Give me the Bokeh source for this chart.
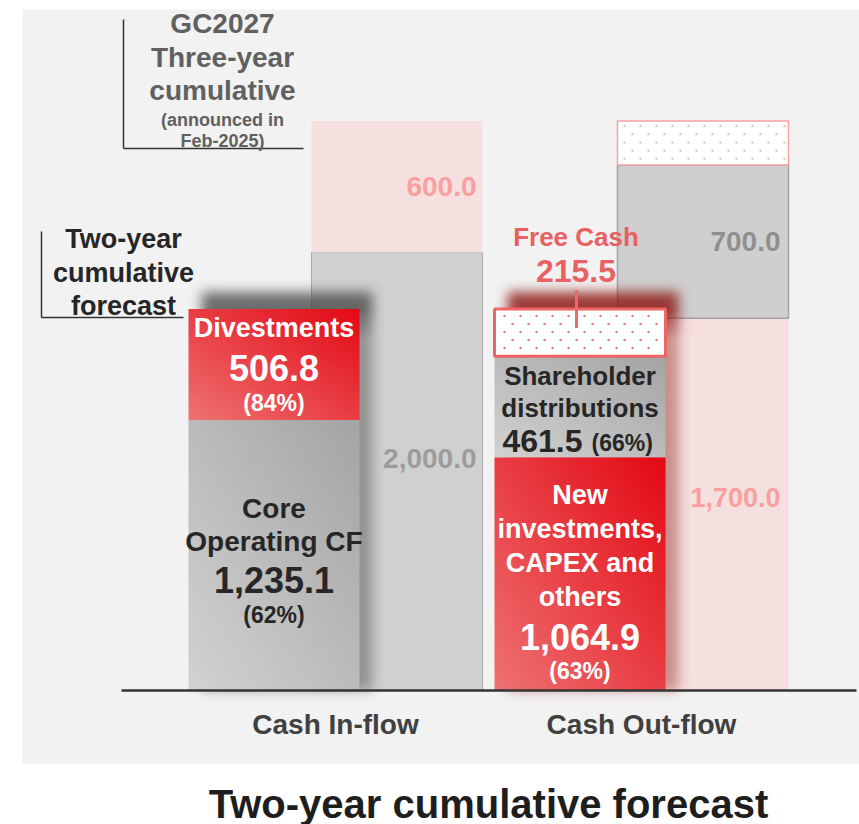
import math
import numpy as np
from bokeh.plotting import figure
from bokeh.models import Range1d
from bokeh.core.properties import value
from bokeh.embed import file_html
from bokeh.resources import INLINE

# ---------------- data ----------------
categories = ["Cash In-flow", "Cash Out-flow"]

inflow_item_lines = [["Core", "Operating CF"], ["Divestments"]]
inflow_values = [1235.1, 506.8]
inflow_shares = ["(62%)", "(84%)"]

outflow_item_lines = [["New", "investments,", "CAPEX and", "others"],
                      ["Shareholder", "distributions"],
                      ["Free Cash"]]
outflow_values = [1064.9, 461.5, 215.5]
outflow_shares = ["(63%)", "(66%)", ""]

plan_inflow_values = [2000.0, 600.0]
plan_outflow_values = [1700.0, 700.0, 200.0]

plan_note_lines = ["GC2027", "Three-year", "cumulative", "(announced in", "Feb-2025)"]
forecast_note_lines = ["Two-year", "cumulative", "forecast"]
title_text = "Two-year cumulative forecast"

# ---------------- layout / style ----------------
PXU = 0.219      # pixels per value unit
GX = 306.0       # pixels between category groups
BAR_PX = 171.0
OFF_PX = 61.5
X0_SCR, Y0_SCR = 335.0, 690.0
FONT = value("Liberation Sans")
FIG_W, FIG_H = 859, 824

def X(px):
    return (px - X0_SCR) / GX

def Y(py):
    return (Y0_SCR - py) / PXU

def dX(px):
    return px / GX

def dY(px):
    return px / PXU

GRAY_PANEL = "#f2f2f2"
PINK_BG = "#f6dfdf"
GRAY_BG = "#d0d0d0"
RED_LIGHT, RED_DARK = (238, 114, 114), (227, 8, 20)
GRAY_LIGHT, GRAY_DARK = (210, 210, 210), (164, 164, 164)

p = figure(width=FIG_W, height=FIG_H, x_range=Range1d(X(0), X(FIG_W)),
           y_range=Range1d(Y(FIG_H), Y(0)), output_backend="svg",
           toolbar_location=None, min_border=0)
p.axis.visible = False
p.grid.visible = False
p.outline_line_color = None
p.background_fill_color = "white"
p.border_fill_color = "white"

# panel
p.quad(left=[X(22)], right=[X(FIG_W + 2)], top=[Y(9)], bottom=[Y(763)],
       fill_color=GRAY_PANEL, line_color=None)


def txt(x, y, s, size, color, align="center", baseline="middle"):
    p.text(x=[x], y=[y], text=[s], text_font=FONT, text_font_style="bold",
           text_font_size=f"{size}px", text_color=color, text_align=align,
           text_baseline=baseline)


def rgba_image(r, g, b, a):
    h, w = r.shape
    img = np.empty((h, w), dtype=np.uint32)
    view = img.view(dtype=np.uint8).reshape((h, w, 4))
    view[:, :, 0] = r
    view[:, :, 1] = g
    view[:, :, 2] = b
    view[:, :, 3] = a
    return img


def gradient(wpx, hpx, light, dark):
    u = (np.arange(wpx) + 0.5) / wpx
    v = (np.arange(hpx) + 0.5) / hpx
    t = (u[None, :] + v[:, None]) / 2.0
    ch = [np.clip(np.rint(l + (d - l) * t), 0, 255).astype(np.uint8)
          for l, d in zip(light, dark)]
    return rgba_image(ch[0], ch[1], ch[2], np.full_like(ch[0], 255))


def dot_fill(wpx, hpx, dot_rgb, sx=16, sy=8, x0=6, y0=5):
    rgb = np.full((hpx, wpx, 3), 255, dtype=np.uint8)
    j = 0
    yy = y0
    while yy < hpx - 2:
        xx = x0 + (sx // 2 if j % 2 else 0)
        while xx < wpx - 2:
            rgb[yy:yy + 2, xx:xx + 2] = dot_rgb
            xx += sx
        yy += sy
        j += 1
    rgb = rgb[::-1]  # first row is drawn at the bottom
    return rgba_image(rgb[:, :, 0].copy(), rgb[:, :, 1].copy(), rgb[:, :, 2].copy(),
                      np.full((hpx, wpx), 255, dtype=np.uint8))


erf = np.vectorize(math.erf)


def soft_box(n, lo, hi, s):
    c = np.arange(n) + 0.5
    k = math.sqrt(2) * s
    return 0.5 * (erf((c - lo) / k) - erf((c - hi) / k))


def shadow(left, wpx, hpx, dx, dy, s, color, a_top, a_side):
    m = int(3 * s) + 2
    W = int(wpx + dx + 2 * m)
    H = int(hpx + dy + 2 * m)
    fx = soft_box(W, m + dx, m + dx + wpx, s)
    fy = soft_box(H, m, m + hpx + dy, s)
    rows = np.arange(H) + 0.5
    wtop = np.clip((rows - (m + hpx - 30)) / 30.0, 0, 1)
    amax = a_side + (a_top - a_side) * wtop
    alpha = np.clip(amax[:, None] * fy[:, None] * fx[None, :] * 255, 0, 255).astype(np.uint8)
    r = np.full_like(alpha, color[0])
    g = np.full_like(alpha, color[1])
    b = np.full_like(alpha, color[2])
    img = rgba_image(r, g, b, alpha)
    p.image_rgba(image=[img], x=left - dX(m), y=-dY(m), dw=dX(W), dh=dY(H))


bw = dX(BAR_PX)

# ---------------- background (three-year plan) bars ----------------
# In-flow plan
cx = 0 + dX(OFF_PX)
p.quad(left=[cx - bw / 2], right=[cx + bw / 2], bottom=[0], top=[plan_inflow_values[0]],
       fill_color=GRAY_BG, line_color="#a8a8a8", line_width=1)
p.quad(left=[cx - bw / 2], right=[cx + bw / 2], bottom=[plan_inflow_values[0]],
       top=[sum(plan_inflow_values)], fill_color=PINK_BG, line_color=None)
txt(cx + bw / 2 - dX(6), Y(458), f"{plan_inflow_values[0]:,.1f}", 28, "#9c9c9c", align="right")
txt(cx + bw / 2 - dX(6), plan_inflow_values[0] + plan_inflow_values[1] / 2,
    f"{plan_inflow_values[1]:,.1f}", 28, "#f7a09f", align="right")

# Out-flow plan
cx = 1 + dX(OFF_PX)
b0 = 0
b1 = plan_outflow_values[0]
b2 = b1 + plan_outflow_values[1]
b3 = b2 + plan_outflow_values[2]
p.quad(left=[cx - bw / 2], right=[cx + bw / 2], bottom=[b0], top=[b1],
       fill_color=PINK_BG, line_color=None)
p.quad(left=[cx - bw / 2], right=[cx + bw / 2], bottom=[b1], top=[b2],
       fill_color="#cfcfcf", line_color="#a3a3a3", line_width=1.5)
img = dot_fill(int(BAR_PX), int(round(plan_outflow_values[2] * PXU)), (246, 180, 180))
p.image_rgba(image=[img], x=cx - bw / 2, y=b2, dw=bw, dh=plan_outflow_values[2])
p.quad(left=[cx - bw / 2], right=[cx + bw / 2], bottom=[b2], top=[b3],
       fill_color=None, line_color="#f5a3a3", line_width=1.5)
txt(cx + bw / 2 - dX(8), b1 / 2 + dY(7), f"{plan_outflow_values[0]:,.1f}", 27, "#f7a09f", align="right")
txt(cx + bw / 2 - dX(8), b1 + plan_outflow_values[1] / 2,
    f"{plan_outflow_values[1]:,.1f}", 28, "#8f8f8f", align="right")

# ---------------- shadows of forecast bars ----------------
for i, vals, col, at, aside in [(0, inflow_values, (70, 70, 70), 0.78, 0.45),
                                (1, outflow_values, (140, 25, 20), 0.85, 0.42)]:
    cx = i - dX(OFF_PX)
    total = sum(vals)
    shadow(cx - bw / 2, BAR_PX, total * PXU, 13, 17, 6.0, col, at, aside)

# ---------------- forecast bars ----------------
in_styles = ["gray", "red"]
out_styles = ["red", "gray", "dotted"]
in_line_dy = [[-47, -14, 25, 60], [-37, 3, 38]]
in_sizes = [[28, 28, 36, 23], [27, 36, 23]]
out_line_dy = [[-79, -45, -11, 23, 63, 97], [-31, 1, 34]]
out_sizes = [[27, 27, 27, 27, 36, 23], [26, 26, 32, 23]]


def draw_stack(i, lines_list, vals, shares, styles, dys, sizes):
    cx = i - dX(OFF_PX)
    left = cx - bw / 2
    bottom = 0.0
    for k, v in enumerate(vals):
        top = bottom + v
        st = styles[k]
        hpx = max(2, int(round(v * PXU)))
        if st in ("gray", "red"):
            light, dark = (GRAY_LIGHT, GRAY_DARK) if st == "gray" else (RED_LIGHT, RED_DARK)
            img = gradient(int(BAR_PX), hpx, light, dark)
            p.image_rgba(image=[img], x=left, y=bottom, dw=bw, dh=v)
            color = "#262626" if st == "gray" else "white"
            mid = (bottom + top) / 2
            lines = lines_list[k]
            dy = dys[k]
            sz = sizes[k]
            for j, s in enumerate(lines):
                txt(cx, mid - dY(dy[j]), s, sz[j], color)
            vtxt = f"{v:,.1f}"
            if len(dy) > len(lines) + 1:
                txt(cx, mid - dY(dy[len(lines)]), vtxt, sz[len(lines)], color)
                txt(cx, mid - dY(dy[len(lines) + 1]), shares[k], sz[len(lines) + 1], color)
            else:
                yy = mid - dY(dy[len(lines)])
                txt(cx + dX(2.5), yy, vtxt, sz[len(lines)], color, align="right")
                txt(cx + dX(11.5), yy - dY(2), shares[k], sz[len(lines) + 1], color, align="left")
        else:
            img = dot_fill(int(BAR_PX), hpx, (238, 106, 106), x0=9, y0=6)
            p.image_rgba(image=[img], x=left, y=bottom, dw=bw, dh=v)
            p.quad(left=[left], right=[left + bw], bottom=[bottom], top=[top],
                   fill_color=None, line_color="#ef6464", line_width=3)
            txt(cx - dX(4), top + dY(72), lines_list[k][0], 26, "#e8605f")
            txt(cx - dX(4), top + dY(38), f"{v:,.1f}", 32, "#e8605f")
            p.segment(x0=[cx - dX(3.5)], y0=[top + dY(19)], x1=[cx - dX(3.5)], y1=[top - dY(19)],
                      line_color="#ee6a6a", line_width=3)
        bottom = top


draw_stack(0, inflow_item_lines, inflow_values, inflow_shares, in_styles, in_line_dy, in_sizes)
draw_stack(1, outflow_item_lines, outflow_values, outflow_shares, out_styles, out_line_dy, out_sizes)

# ---------------- baseline & category labels ----------------
p.segment(x0=[X(121)], y0=[0], x1=[X(856)], y1=[0], line_color="#333333", line_width=2.5)
p.text(x=[0, 1], y=[Y(724)] * 2, text=categories, text_font=FONT, text_font_style="bold",
       text_font_size="28px", text_color="#404040", text_align="center", text_baseline="middle")

# ---------------- annotation brackets ----------------
p.segment(x0=[X(123), X(123)], y0=[Y(19), Y(148)], x1=[X(123), X(303)], y1=[Y(148), Y(148)],
          line_color="#333333", line_width=1.5)
for s, yy, sz in zip(plan_note_lines, [23, 57, 90, 119, 140], [28, 28, 28, 18, 18]):
    txt(X(222), Y(yy), s, sz, "#606060")

p.segment(x0=[X(41), X(41)], y0=[Y(231), Y(317)], x1=[X(41), X(183)], y1=[Y(317), Y(317)],
          line_color="#333333", line_width=1.5)
for s, yy in zip(forecast_note_lines, [238, 272, 305]):
    txt(X(123), Y(yy), s, 27, "#262626")

# ---------------- title ----------------
txt(0.5, Y(803), title_text, 40, "#1e1e1e")

open("out.html", "w").write(file_html(p, INLINE))
